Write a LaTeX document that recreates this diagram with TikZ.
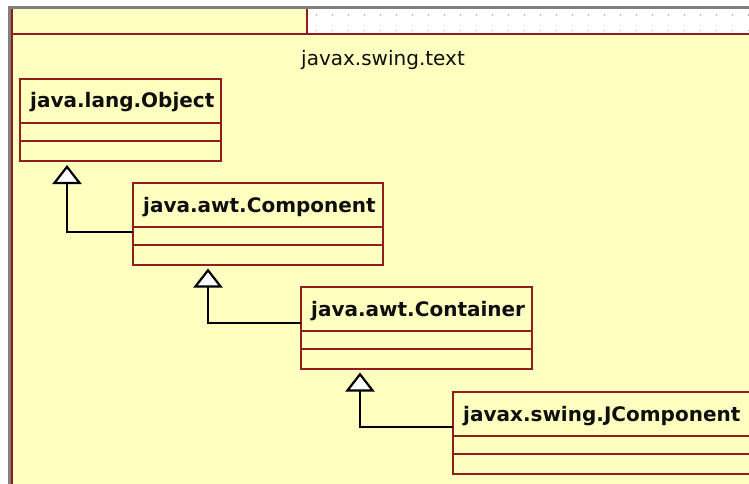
\documentclass[tikz,border=0pt]{standalone}
\usepackage{fontspec}
\setmainfont{DejaVu Sans}
\usetikzlibrary{arrows.meta,calc}

\definecolor{pkgfill}{RGB}{255,255,192}
\definecolor{umlred}{RGB}{145,30,30}
\definecolor{framegray}{RGB}{128,128,128}
\definecolor{dotgray}{RGB}{175,175,175}
\definecolor{inkblack}{RGB}{15,15,15}

\tikzset{
  classbox/.style={draw=umlred, line width=2.2pt, fill=pkgfill, rectangle,
    inner sep=0pt, outer sep=0pt, minimum height=82pt},
  umlline/.style={draw=umlred, line width=2.2pt},
  classtitle/.style={anchor=base west, inner sep=0pt, text=inkblack,
    font=\fontsize{20}{24}\selectfont\bfseries},
  pkgtitle/.style={anchor=base west, inner sep=0pt, text=inkblack,
    font=\fontsize{20}{24}\selectfont},
  inherit/.style={draw=black, line width=2.2pt,
    -{Triangle[length=19pt,width=29pt,fill=white,line join=miter]}},
}

% class box with name, position, width and title
\newcommand\umlclass[5]{%
  \node[classbox, minimum width=#4, anchor=north west] (#1) at (#2,#3) {};
  \draw[umlline] ($(#1.north west)+(0,44)$) -- ($(#1.north east)+(0,44)$);
  \draw[umlline] ($(#1.north west)+(0,62)$) -- ($(#1.north east)+(0,62)$);
  \node[classtitle] (#1-title) at ($(#1.north west)+(10,29)$) {#5};
}

\begin{document}
\begin{tikzpicture}[x=1pt,y=-1pt]
\useasboundingbox (0,0) rectangle (749,484);
\clip (0,0) rectangle (749,484);
\fill[white] (0,0) rectangle (749,484);

% package frame
\fill[framegray] (8,6) rectangle (749,9);
\fill[framegray] (8,6) rectangle (11,484);
\fill[pkgfill] (11,9) rectangle (749,484);
\fill[white] (307,9) rectangle (749,33);
\foreach \i in {0,...,27}{
  \fill[dotgray] (316+16*\i,14.5) rectangle ++(1.4,1.4);
  \fill[dotgray] (316+16*\i,30) rectangle ++(1.4,1.4);
}
\draw[umlred, line width=2.2pt] (12,9) -- (12,484);
\draw[umlred, line width=2.2pt] (11,34) -- (749,34);
\draw[umlred, line width=2.2pt] (307,9) -- (307,34);
\node[pkgtitle] (pkg) at (301,66) {javax.swing.text};

% classes
\umlclass{obj}{20}{79}{201}{java.lang.Object}
\umlclass{comp}{133}{183}{250}{java.awt.Component}
\umlclass{cont}{301}{287}{231}{java.awt.Container}
\umlclass{jcomp}{453}{392}{330}{javax.swing.JComponent}

% generalizations
\draw[inherit] ($(comp.north west)+(0,49)$) -| ($(obj.south west)+(47,4)$);
\draw[inherit] ($(cont.north west)+(0,36)$) -| ($(comp.south west)+(75,3.5)$);
\draw[inherit] ($(jcomp.north west)+(0,35)$) -| ($(cont.south west)+(59,3.5)$);
\end{tikzpicture}
\end{document}
